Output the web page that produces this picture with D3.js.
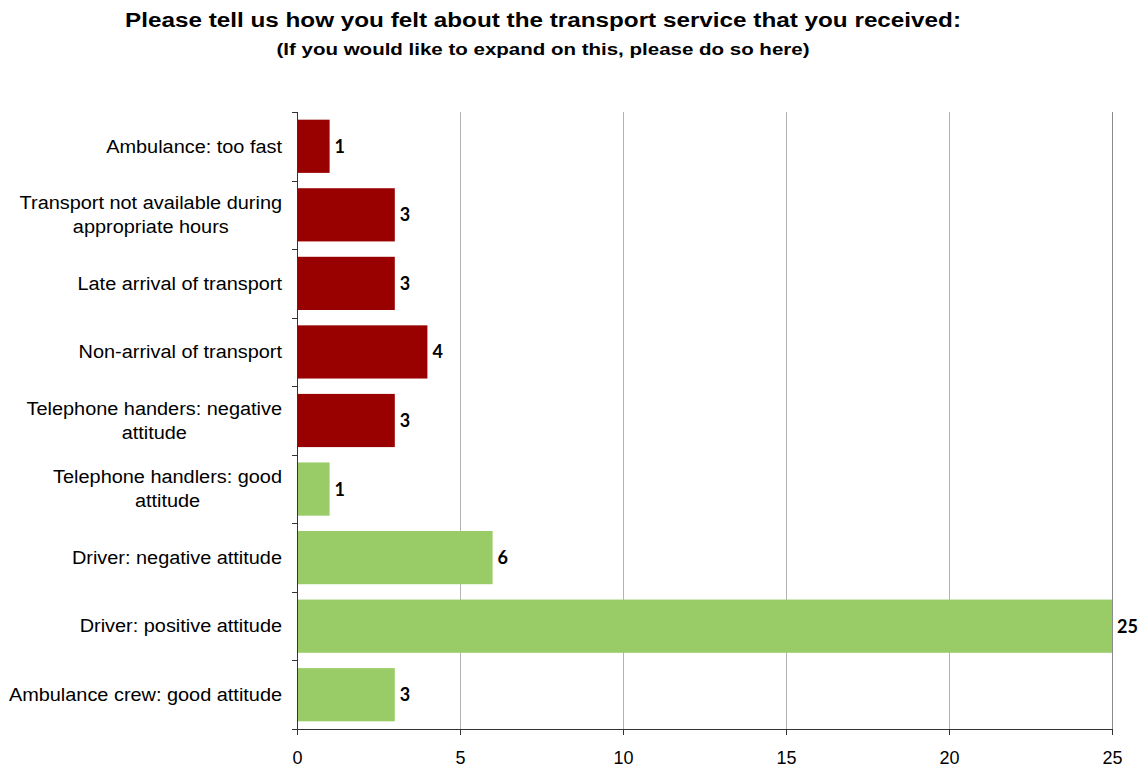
<!DOCTYPE html>
<html>
<head>
<meta charset="utf-8">
<script src="https://cdn.jsdelivr.net/npm/d3@7"></script>
<style>
  html, body { margin: 0; padding: 0; background: #fff; }
  svg { display: block; }
</style>
</head>
<body>
<svg id="chart" width="1139" height="772"></svg>
<script>
// Survey responses, top to bottom
const categories = [
  "Ambulance: too fast",
  "Transport not available during appropriate hours",
  "Late arrival of transport",
  "Non-arrival of transport",
  "Telephone handers: negative attitude",
  "Telephone handlers: good attitude",
  "Driver: negative attitude",
  "Driver: positive attitude",
  "Ambulance crew: good attitude"
];
const counts = [1, 3, 3, 4, 3, 1, 6, 25, 3];
const sentiment = ["neg", "neg", "neg", "neg", "neg", "pos", "pos", "pos", "pos"];
const xTicks = [0, 5, 10, 15, 20, 25];

const title = "Please tell us how you felt about the transport service that you received:";
const subtitle = "(If you would like to expand on this, please do so here)";

const colors = { neg: "#990000", pos: "#99CC66" };

const svg = d3.select("#chart");
const margin = { left: 297, right: 27, top: 112, bottom: 43 };
const W = 1139, H = 772;
const plotW = W - margin.left - margin.right;
const plotH = H - margin.top - margin.bottom;

const x = d3.scaleLinear().domain([0, 25]).range([0, plotW]);
const y = d3.scaleBand().domain(categories).range([0, plotH]).paddingInner(0.224).paddingOuter(0.112);
const band = d3.scaleBand().domain(categories).range([0, plotH]);

const sansFont = "'Liberation Sans', Arial, sans-serif";

// Titles: glyphs are set slightly wide
svg.append("text")
  .attr("x", 543).attr("y", 27)
  .attr("text-anchor", "middle")
  .attr("textLength", 836)
  .attr("lengthAdjust", "spacingAndGlyphs")
  .style("font-family", sansFont)
  .style("font-weight", "bold")
  .style("font-size", "20px")
  .text(title);
svg.append("text")
  .attr("x", 543).attr("y", 55)
  .attr("text-anchor", "middle")
  .attr("textLength", 533)
  .attr("lengthAdjust", "spacingAndGlyphs")
  .style("font-family", sansFont)
  .style("font-weight", "bold")
  .style("font-size", "16px")
  .text(subtitle);

const g = svg.append("g").attr("transform", `translate(${margin.left},${margin.top})`);

// Vertical gridlines
g.append("g")
  .selectAll("line")
  .data(xTicks.filter(d => d > 0))
  .join("line")
  .attr("x1", d => Math.round(x(d)) + 0.5)
  .attr("x2", d => Math.round(x(d)) + 0.5)
  .attr("y1", 0).attr("y2", plotH)
  .attr("stroke", d => d === 25 ? "#8c8c8c" : "#b3b3b3")
  .attr("stroke-width", 1);

// Bars
g.append("g")
  .selectAll("rect")
  .data(categories)
  .join("rect")
  .attr("x", 0)
  .attr("y", d => y(d))
  .attr("width", (d, i) => x(counts[i]))
  .attr("height", y.bandwidth())
  .attr("fill", (d, i) => colors[sentiment[i]]);

// Value labels
g.append("g")
  .selectAll("text")
  .data(categories)
  .join("text")
  .attr("x", (d, i) => x(counts[i]) + 5)
  .attr("y", d => y(d) + y.bandwidth() / 2)
  .attr("dy", "0.36em")
  .style("font-family", "Lato, 'Open Sans', sans-serif")
  .style("font-weight", "bold")
  .style("font-size", "18px")
  .attr("fill", "#000")
  .text((d, i) => counts[i]);

// Y axis with ticks at band boundaries
const yAxisG = g.append("g");
yAxisG.append("line")
  .attr("x1", 0.5).attr("x2", 0.5)
  .attr("y1", 0).attr("y2", plotH)
  .attr("stroke", "#333");
const boundaries = categories.map(c => band(c)).concat([plotH]);
yAxisG.selectAll("line.tick")
  .data(boundaries)
  .join("line")
  .attr("class", "tick")
  .attr("x1", -5).attr("x2", 0.5)
  .attr("y1", d => Math.round(d) + 0.5).attr("y2", d => Math.round(d) + 0.5)
  .attr("stroke", "#333");

// Category labels, wrapped to a maximum width, glyphs stretched a little
const labelSize = "18px";
const stretch = 1.105;
const maxLabelW = 286;
const labels = g.append("g");
const probe = labels.append("text")
  .style("font-family", sansFont)
  .style("font-size", labelSize);
const measure = s => { probe.text(s); return probe.node().getComputedTextLength() * stretch; };
categories.forEach(cat => {
  const words = cat.split(" ");
  const lines = [];
  let line = [];
  words.forEach(w => {
    const trial = line.concat([w]).join(" ");
    if (measure(trial) > maxLabelW && line.length) {
      lines.push(line.join(" "));
      line = [w];
    } else {
      line.push(w);
    }
  });
  lines.push(line.join(" "));
  // widest line ends just left of the axis; lines are centred on each other
  const maxW = d3.max(lines, measure);
  const cx = -15 - maxW / 2;
  const cy = band(cat) + band.bandwidth() / 2;
  const lh = 24;
  lines.forEach((l, i) => {
    labels.append("text")
      .attr("text-anchor", "middle")
      .attr("x", cx)
      .attr("y", cy + (i - (lines.length - 1) / 2) * lh)
      .attr("dy", "0.35em")
      .attr("textLength", measure(l))
      .attr("lengthAdjust", "spacingAndGlyphs")
      .style("font-family", sansFont)
      .style("font-size", labelSize)
      .attr("fill", "#000")
      .text(l);
  });
});
probe.remove();

// X axis
const xAxis = d3.axisBottom(x).tickValues(xTicks).tickSize(6).tickPadding(16).tickFormat(d3.format("d"));
const xg = g.append("g").attr("transform", `translate(0,${plotH})`).call(xAxis);
xg.select(".domain").attr("stroke", "#333").attr("d", `M0.5,0.5H${plotW + 0.5}`);
xg.selectAll(".tick line").attr("stroke", "#333");
xg.selectAll(".tick text")
  .style("font-family", sansFont)
  .style("font-size", "18px")
  .attr("fill", "#000");
</script>
</body>
</html>
